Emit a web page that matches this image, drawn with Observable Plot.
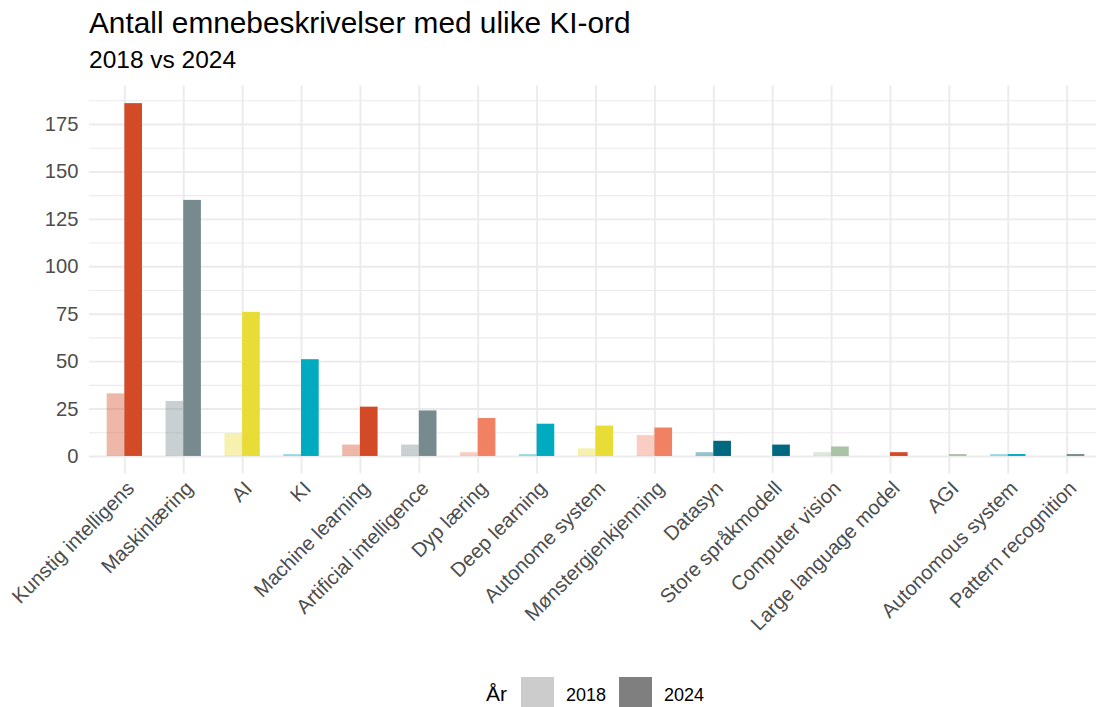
<!DOCTYPE html>
<html><head><meta charset="utf-8">
<script src="https://cdn.jsdelivr.net/npm/d3@7"></script>
<script src="https://cdn.jsdelivr.net/npm/@observablehq/plot@0.6"></script>
<style>
body{margin:0;background:#fff;font-family:"Liberation Sans",Arial,sans-serif;}
#wrap{position:relative;width:1096px;height:707px;overflow:hidden;background:#fff;}
#title{position:absolute;left:89px;top:8px;font-size:29.8px;line-height:1;color:#000;white-space:nowrap;}
#subtitle{position:absolute;left:89px;top:48px;font-size:24.5px;line-height:1;color:#000;white-space:nowrap;}
#chart{position:absolute;left:0;top:80px;}
#legend{position:absolute;left:0;top:677px;height:35px;width:1096px;}
.lg{position:absolute;line-height:1;white-space:nowrap;color:#000;}
.key{position:absolute;width:33px;height:35px;}
</style></head><body>
<div id="wrap">
<div id="title">Antall emnebeskrivelser med ulike KI-ord</div>
<div id="subtitle">2018 vs 2024</div>
<div id="chart"></div>
<div id="legend"></div>
</div>
<script>
const categories = ["Kunstig intelligens","Maskinlæring","AI","KI","Machine learning","Artificial intelligence","Dyp læring","Deep learning","Autonome system","Mønstergjenkjenning","Datasyn","Store språkmodell","Computer vision","Large language model","AGI","Autonomous system","Pattern recognition"];
const values2018 = [33, 29, 12, 1, 6, 6, 2, 1, 4, 11, 2, 0, 2, 0, 0, 1, 0];
const values2024 = [186, 135, 76, 51, 26, 24, 20, 17, 16, 15, 8, 6, 5, 2, 1, 1, 1];
const categoryColors = ["#D34A27","#778A8E","#E8DC37","#00AABF","#D34A27","#778A8E","#F08263","#00AABF","#E8DC37","#F08263","#00687F","#00687F","#A9C2A6","#D34A27","#A9C2A6","#00AABF","#778A8E"];
const years = ["2018","2024"];
const yearOpacity = [0.4, 1];
const yTicks = [0,25,50,75,100,125,150,175];
const yMinorTicks = [12.5,37.5,62.5,87.5,112.5,137.5,162.5,187.5];
const yDomain = [-9.3, 195.3];
const legendTitle = "År";

const rows = [];
categories.forEach((c,i)=>{
  rows.push({category:c, year:years[0], value:values2018[i]});
  rows.push({category:c, year:years[1], value:values2024[i]});
});
const data2018 = rows.filter(d=>d.year===years[0]);
const data2024 = rows.filter(d=>d.year===years[1]);

const W = 1096, H = 600;
const xRange = [89, 1102];
const padOuter = 0.3, padInner = 0.4;
const step = (xRange[1]-xRange[0])/(categories.length - padInner + 2*padOuter);
const bw = step*(1-padInner);
const grid = "#EBEBEB";
const textCol = "#4D4D4D";

const chart = Plot.plot({
  width: W, height: H,
  marginTop: 5.5, marginBottom: H - (473.6-80), marginLeft: 89, marginRight: 0,
  style: {fontFamily: '"Liberation Sans", Arial, sans-serif', fontSize: "20.2px", background: "#fff", overflow: "visible"},
  x: {type: "band", domain: categories, range: xRange, paddingInner: padInner, paddingOuter: padOuter, align: 0.5, round: false},
  y: {domain: yDomain},
  color: {type: "ordinal", domain: categories, range: categoryColors},
  marks: [
    Plot.ruleY(yMinorTicks, {stroke: grid, strokeWidth: 1.1}),
    Plot.ruleY(yTicks, {stroke: grid, strokeWidth: 1.9}),
    Plot.ruleX(categories, {x: d=>d, stroke: grid, strokeWidth: 1.9}),
    Plot.barY(data2018, {x: "category", y1: 0, y2: "value", fill: "category", fillOpacity: yearOpacity[0], insetLeft: 0, insetRight: bw/2}),
    Plot.barY(data2024, {x: "category", y1: 0, y2: "value", fill: "category", fillOpacity: yearOpacity[1], insetLeft: bw/2, insetRight: 0}),
    Plot.axisY({ticks: yTicks, tickSize: 0, tickPadding: 11, fill: textCol, fontSize: "20.2px", label: null}),
    Plot.axisX({tickSize: 0, tickPadding: 11, dx: 6, tickRotate: -45, fill: textCol, fontSize: "20.2px", label: null})
  ]
});
document.getElementById("chart").appendChild(chart);

// legend
const lg = document.getElementById("legend");
const greyBase = "#7F7F7F";
const t = document.createElement("div");
t.className = "lg"; t.textContent = legendTitle;
t.style.left = "486px"; t.style.top = "6px"; t.style.fontSize = "21px";
lg.appendChild(t);
const keyX = [521, 619];
const labX = [566, 664];
years.forEach((y,i)=>{
  const k = document.createElement("div");
  k.className = "key";
  k.style.left = keyX[i]+"px"; k.style.top = "0px";
  k.style.background = greyBase; k.style.opacity = yearOpacity[i];
  lg.appendChild(k);
  const l = document.createElement("div");
  l.className = "lg"; l.textContent = y;
  l.style.left = labX[i]+"px"; l.style.top = "9px"; l.style.fontSize = "18px";
  lg.appendChild(l);
});
</script>
</body></html>
